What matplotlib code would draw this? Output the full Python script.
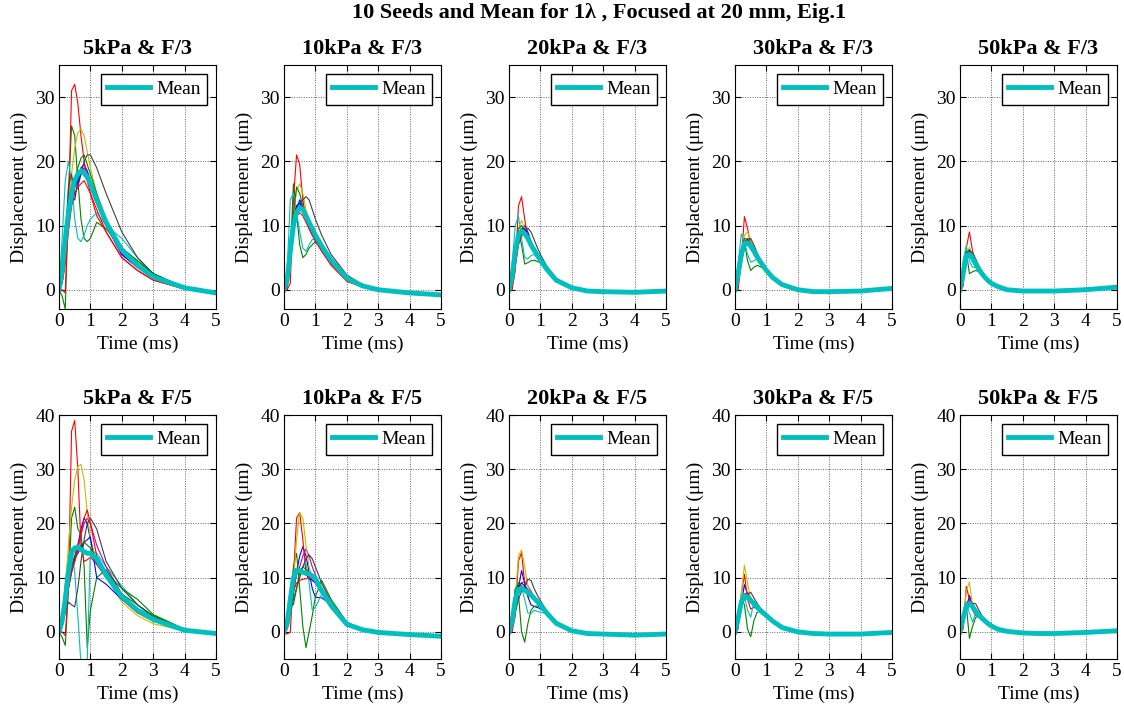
import numpy as np
import matplotlib
matplotlib.use("Agg")
import matplotlib.pyplot as plt

plt.rcParams['font.family'] = ['Liberation Serif', 'DejaVu Serif']
plt.rcParams['mathtext.fontset'] = 'stix'

# time samples (ms)
t_ms = [0, 0.1, 0.2, 0.3, 0.4, 0.5, 0.6, 0.7, 0.8, 0.9, 1.0, 1.2, 1.5, 2.0, 2.5, 3.0, 4.0, 5.0]

pressures = ["5kPa", "10kPa", "20kPa", "30kPa", "50kPa"]
f_numbers = ["F/3", "F/5"]

# old matlab colour order, 10 seeds
seed_colors = [(0, 0, 1), (0, 0.5, 0), (1, 0, 0), (0, 0.75, 0.75), (0.75, 0, 0.75),
               (0.75, 0.75, 0), (0.25, 0.25, 0.25), (0, 0, 1), (0, 0.5, 0), (1, 0, 0)]

### F/3 ###

seeds_5kPa_F3 = [
    [0, 1, 5, 10, 14, 14, 17, 19, 19.5, 18.5, 17, 14, 10, 5.5, 3.5, 1.8, 0.2, -0.5],
    [0, -1, -3, 15, 25.5, 24, 17, 11, 8, 7.5, 8, 10.5, 9.5, 6.5, 4.5, 2.5, 0.3, -0.5],
    [0, 0, -0.5, 12, 31, 32, 29, 24, 20, 17, 15, 11.5, 9, 5, 3, 1.5, 0.1, -0.5],
    [0, 8, 17, 20, 17, 11, 8, 7.5, 8.5, 10, 11, 12, 10, 8, 5, 2.5, 0.3, -0.5],
    [0, 2, 7, 12, 15.5, 16, 16.5, 18, 19, 18, 17, 14, 10, 5.5, 3.5, 1.8, 0.2, -0.5],
    [0, 1, 5, 12, 18, 22, 24.5, 25, 24, 21.5, 19, 15, 10.5, 6, 3.5, 1.8, 0.2, -0.5],
    [0, 2, 8, 16, 18, 15, 16, 18, 20, 21, 21, 19, 15, 9, 5, 2.5, 0.3, -0.5],
    [0, 3, 9, 14, 16, 16, 17, 18, 18.5, 17.5, 16.5, 13.5, 10, 5.5, 3.5, 1.8, 0.2, -0.5],
    [0, 2, 6, 11, 15, 17, 19, 20.5, 21, 19.5, 18, 15, 11, 6.5, 4.5, 2.5, 0.3, -0.5],
    [0, 1, 4, 9, 13, 15, 16, 16.5, 17, 16, 15, 12.5, 9, 5, 3, 1.5, 0.1, -0.5],
]
mean_5kPa_F3 = [0, 3, 8, 12, 15, 17, 18, 18.5, 18.2, 17.5, 16.5, 14, 10.5, 6.2, 3.8, 2.0, 0.3, -0.5]

seeds_10kPa_F3 = [
    [0, 0.5, 4, 9, 12.5, 14, 13, 11.5, 10, 9, 8, 6.5, 4.3, 1.8, 0.6, 0, -0.5, -0.8],
    [0, 0, 5, 16.5, 12, 7, 5, 5.5, 6.5, 7, 7.5, 6.5, 4.8, 2, 0.6, 0, -0.5, -0.8],
    [0, 0, 1, 14, 21, 19.5, 14, 11, 10, 9, 8, 6, 4, 1.5, 0.5, 0, -0.5, -0.8],
    [0, 3, 14, 15, 12, 9, 6.5, 6, 7, 7.8, 8, 7, 5, 2, 0.6, 0, -0.5, -0.8],
    [0, 1, 6, 11, 13, 13.5, 13, 12, 10.5, 9.5, 8.5, 6.8, 4.5, 1.8, 0.6, 0, -0.5, -0.8],
    [0, 0.5, 4, 11, 15.5, 16.5, 15, 12.5, 10.5, 9, 8, 6.3, 4.2, 1.5, 0.5, 0, -0.5, -0.8],
    [0, 1, 5, 10, 12, 13, 14, 14.5, 14, 12.5, 11, 8.5, 5.5, 2.3, 0.8, 0, -0.5, -0.8],
    [0, 2, 7, 11, 13, 13.5, 12.5, 11, 9.5, 8.5, 7.8, 6.3, 4.2, 1.7, 0.5, 0, -0.5, -0.8],
    [0, 1, 8, 12, 16, 15, 13, 11, 9.5, 8.7, 8, 6.5, 4.5, 1.8, 0.6, 0, -0.5, -0.8],
    [0, 0.5, 5, 10, 11.5, 12, 11.5, 10.5, 9.5, 8.5, 7.5, 6, 3.8, 1.3, 0.4, 0, -0.5, -0.8],
]
mean_10kPa_F3 = [0, 1.5, 6, 10, 12, 12.8, 12.5, 11.5, 10.5, 9.5, 8.5, 6.8, 4.6, 1.8, 0.6, 0, -0.5, -0.8]

seeds_20kPa_F3 = [
    [0, 1, 4, 7.5, 9, 10, 9, 7.5, 6.5, 5.6, 4.8, 3.3, 1.5, 0.3, -0.2, -0.3, -0.4, -0.2],
    [0, 1.5, 6, 9, 7, 4, 4.2, 4.5, 4.6, 4.4, 4.2, 3.2, 1.6, 0.3, -0.2, -0.3, -0.4, -0.2],
    [0, 0, 3, 13, 14.5, 11, 8, 6.5, 5.8, 5, 4.3, 3, 1.3, 0.2, -0.2, -0.3, -0.4, -0.2],
    [0, 4, 10, 11.5, 8, 5, 4.8, 5.3, 5.5, 5, 4.6, 3.3, 1.6, 0.3, -0.2, -0.3, -0.4, -0.2],
    [0, 1.5, 5.5, 8.5, 9.3, 9, 8.2, 7.2, 6.3, 5.4, 4.6, 3.2, 1.5, 0.3, -0.2, -0.3, -0.4, -0.2],
    [0, 1, 5, 9.5, 10.8, 9.5, 8, 7, 6, 5.2, 4.4, 3, 1.3, 0.2, -0.2, -0.3, -0.4, -0.2],
    [0, 1, 4, 7, 8.5, 9, 9.6, 9, 7.8, 6.6, 5.5, 3.7, 1.8, 0.4, -0.1, -0.3, -0.4, -0.2],
    [0, 2, 6, 8.5, 9.5, 9.5, 8.5, 7.3, 6.3, 5.4, 4.5, 3.1, 1.4, 0.3, -0.2, -0.3, -0.4, -0.2],
    [0, 1.5, 6.5, 9.5, 10, 9, 8, 7, 6, 5.2, 4.4, 3.1, 1.4, 0.3, -0.2, -0.3, -0.4, -0.2],
    [0, 0.5, 3.5, 7, 8.5, 8.5, 8, 7, 6, 5.1, 4.3, 3, 1.4, 0.2, -0.2, -0.3, -0.4, -0.2],
]
mean_20kPa_F3 = [0, 2, 6, 8.5, 9.1, 8.7, 8, 7, 6.2, 5.4, 4.6, 3.2, 1.5, 0.3, -0.2, -0.3, -0.4, -0.2]

seeds_30kPa_F3 = [
    [0, 1.5, 4.5, 7, 7.8, 7.3, 6.3, 5.3, 4.5, 3.8, 3.1, 2, 0.8, 0, -0.3, -0.3, -0.2, 0.2],
    [0, 2, 6, 7.5, 4.5, 3, 3.5, 3.8, 3.6, 3.3, 2.9, 2, 0.9, 0, -0.3, -0.3, -0.2, 0.2],
    [0, 0, 4.5, 11.4, 9.5, 7, 5.5, 4.7, 4, 3.4, 2.8, 1.8, 0.7, 0, -0.3, -0.3, -0.2, 0.2],
    [0, 4, 8.7, 7.5, 5.5, 4.3, 4.5, 4.8, 4.5, 3.9, 3.2, 2.1, 0.9, 0, -0.3, -0.3, -0.2, 0.2],
    [0, 2, 5.5, 7.5, 8, 7.2, 6.2, 5.3, 4.5, 3.8, 3.1, 2, 0.8, 0, -0.3, -0.3, -0.2, 0.2],
    [0, 1.5, 5.5, 8.5, 9, 7.8, 6.4, 5.3, 4.4, 3.7, 3, 1.9, 0.7, 0, -0.3, -0.3, -0.2, 0.2],
    [0, 1.5, 4.5, 7, 7.8, 8, 7, 5.8, 4.8, 4, 3.3, 2.1, 0.9, 0.1, -0.3, -0.3, -0.2, 0.2],
    [0, 2, 5.5, 7.3, 7.5, 7, 6.1, 5.2, 4.4, 3.7, 3, 1.9, 0.8, 0, -0.3, -0.3, -0.2, 0.2],
    [0, 2, 6, 8, 7.8, 7, 6, 5.1, 4.3, 3.6, 2.9, 1.9, 0.8, 0, -0.3, -0.3, -0.2, 0.2],
    [0, 1, 4, 6.5, 7.2, 7, 6.2, 5.3, 4.5, 3.7, 3, 1.9, 0.8, 0, -0.3, -0.3, -0.2, 0.2],
]
mean_30kPa_F3 = [0, 2.5, 5.5, 7.2, 7.3, 6.8, 6, 5.2, 4.4, 3.7, 3, 1.9, 0.8, 0, -0.3, -0.3, -0.2, 0.2]

seeds_50kPa_F3 = [
    [0, 1.5, 4.5, 5.8, 5.2, 4.2, 3.3, 2.6, 2, 1.5, 1, 0.5, 0, -0.2, -0.2, -0.2, 0, 0.4],
    [0, 2.5, 6, 2.5, 2.8, 3, 2.8, 2.4, 2, 1.5, 1.1, 0.5, 0, -0.2, -0.2, -0.2, 0, 0.4],
    [0, 0.5, 6.5, 9, 6, 4.2, 3.2, 2.5, 1.9, 1.4, 1, 0.5, 0, -0.2, -0.2, -0.2, 0, 0.4],
    [0, 4.5, 6.9, 4.5, 3.5, 3.5, 3.2, 2.6, 2, 1.5, 1, 0.5, 0, -0.2, -0.2, -0.2, 0, 0.4],
    [0, 2.5, 5, 6, 5.2, 4.2, 3.3, 2.6, 2, 1.5, 1, 0.5, 0, -0.2, -0.2, -0.2, 0, 0.4],
    [0, 2, 5.5, 6.6, 5.5, 4.2, 3.2, 2.5, 1.9, 1.4, 1, 0.5, 0, -0.2, -0.2, -0.2, 0, 0.4],
    [0, 1.5, 4.5, 6, 5.8, 4.8, 3.7, 2.8, 2.1, 1.6, 1.1, 0.5, 0, -0.2, -0.2, -0.2, 0, 0.4],
    [0, 2.5, 5.5, 6.2, 5, 4, 3.2, 2.5, 1.9, 1.4, 1, 0.5, 0, -0.2, -0.2, -0.2, 0, 0.4],
    [0, 2.5, 5.8, 6, 5, 4, 3.1, 2.4, 1.9, 1.4, 1, 0.5, 0, -0.2, -0.2, -0.2, 0, 0.4],
    [0, 1.5, 4.5, 5.5, 5, 4.1, 3.2, 2.5, 1.9, 1.4, 1, 0.5, 0, -0.2, -0.2, -0.2, 0, 0.4],
]
mean_50kPa_F3 = [0, 2.5, 5.3, 5.5, 4.9, 4, 3.2, 2.5, 1.9, 1.4, 1, 0.5, 0, -0.2, -0.2, -0.2, 0, 0.4]

### F/5 ###

seeds_5kPa_F5 = [
    [0, 1, 4, 8, 11, 13, 16, 19, 21, 20, 17, 12.5, 10, 6.8, 4, 2.3, 0.3, -0.3],
    [0, -1, -2.5, 8, 21, 23, 19, 18, 12, -3, 4, 10, 11.5, 7, 5, 3, 0.4, -0.3],
    [0, 0, -0.7, 8, 37, 39, 30, 16, 13, 13.3, 13.8, 12.5, 10.5, 6, 3.5, 2, 0.2, -0.3],
    [0, 3, 9, 14, 15.4, 11, 3, -6, -9, -5, 15, 14.5, 12, 8.5, 5, 2.5, 0.3, -0.3],
    [0, 1, 4, 8, 12, 14, 16, 18, 20, 21, 20, 16, 12, 7, 4, 2.2, 0.3, -0.3],
    [0, 2, 8, 16, 23, 28, 30.5, 30.9, 28, 22, 17, 13, 10, 5.5, 3, 1.5, 0.2, -0.3],
    [0, 1.5, 3.5, 5.5, 5, 4.6, 8, 13, 17, 20, 21, 19, 13, 8, 5, 2.8, 0.5, -0.3],
    [0, 2, 5, 9, 12, 13.5, 14.5, 15.5, 16.5, 17, 17.5, 10, 8.8, 6, 3.8, 2.2, 0.3, -0.3],
    [0, 1.5, 5, 9, 12, 14, 15, 16, 16.5, 16, 15.5, 13.5, 11, 8, 6, 3.2, 0.5, -0.3],
    [0, 1, 4, 8, 11, 13, 15, 18, 21, 22.5, 20, 14, 11, 6.5, 3.8, 2.2, 0.3, -0.3],
]
mean_5kPa_F5 = [0, 2, 6, 11, 14.5, 15.5, 15.6, 15.2, 14.8, 14.5, 14.5, 13.5, 10.5, 6.5, 4, 2.3, 0.3, -0.3]

seeds_10kPa_F5 = [
    [0, 0.5, 3, 7, 11, 14, 15.7, 14, 11, 8, 6.4, 6.3, 5, 1.5, 0.4, -0.1, -0.5, -0.8],
    [0, 1, 6, 12, 14.5, 8, 1, -2.9, 0, 3, 6.5, 9.5, 6, 1.8, 0.5, -0.1, -0.5, -0.8],
    [0, -0.4, 0, 10, 21, 22, 17, 11, 9.6, 10, 10, 7.5, 4.5, 1.2, 0.3, -0.1, -0.5, -0.8],
    [0, 2, 7, 11, 11.5, 11, 12, 12.7, 9, 4, 4.5, 7, 5.5, 1.6, 0.5, -0.1, -0.5, -0.8],
    [0, 1, 4, 8, 10.5, 12, 14, 15.3, 14, 12, 10.5, 8, 5, 1.5, 0.4, -0.1, -0.5, -0.8],
    [0, 0.5, 3, 9, 17, 22, 21, 16, 12, 10, 9, 7, 4.3, 1.1, 0.3, -0.1, -0.5, -0.8],
    [0, 1, 3.5, 6, 8, 10, 12, 13.5, 14.2, 13.5, 12, 9, 5.5, 1.7, 0.5, -0.1, -0.5, -0.8],
    [0, 1.5, 5.5, 9, 11, 11.5, 11, 10.5, 10, 9.5, 9, 7.3, 4.7, 1.3, 0.4, -0.1, -0.5, -0.8],
    [0, 2, 6, 5, 8, 11, 12, 11.5, 11, 10.5, 9.8, 8, 5.2, 1.6, 0.5, -0.1, -0.5, -0.8],
    [0, 1, 4, 7.5, 9, 9.5, 9.7, 9.8, 10, 9.8, 9.3, 7.3, 4.6, 1.3, 0.4, -0.1, -0.5, -0.8],
]
mean_10kPa_F5 = [0, 1.5, 6, 10, 11.4, 11.3, 11, 10.8, 10.7, 10.3, 9.8, 7.6, 4.9, 1.4, 0.4, -0.1, -0.5, -0.8]

seeds_20kPa_F5 = [
    [0, 1, 4, 8, 11.3, 9, 6.5, 5, 4.7, 4.5, 4.3, 3.3, 1.6, 0.2, -0.3, -0.4, -0.6, -0.4],
    [0, 2, 8, 7, 0, -1.9, 1.5, 4, 4.7, 4.8, 4.6, 3.4, 1.6, 0.2, -0.3, -0.4, -0.6, -0.4],
    [0, 0, 3, 13, 14.6, 9, 6.5, 6.8, 6.5, 5.5, 4.8, 3.2, 1.4, 0.1, -0.3, -0.4, -0.6, -0.4],
    [0, 3, 8, 9, 8, 6, 3.5, 3.4, 4, 3.8, 3.6, 3.4, 1.8, 0.2, -0.3, -0.4, -0.6, -0.4],
    [0, 1.5, 5, 8, 9, 9.3, 8.5, 7.5, 6.5, 5.8, 5.1, 3.5, 1.6, 0.2, -0.3, -0.4, -0.6, -0.4],
    [0, 1, 6, 14, 15.1, 12, 8.5, 7, 6, 5.3, 4.7, 3.1, 1.3, 0.1, -0.3, -0.4, -0.6, -0.4],
    [0, 1, 3.5, 6, 7.5, 8.5, 9.7, 9.5, 8, 6.8, 5.8, 3.8, 1.8, 0.3, -0.3, -0.4, -0.6, -0.4],
    [0, 2, 6, 8.5, 9, 8.5, 7.8, 7, 6.3, 5.6, 5, 3.5, 1.6, 0.2, -0.3, -0.4, -0.6, -0.4],
    [0, 2.5, 7.5, 9, 8.5, 8, 7.5, 6.8, 6.2, 5.5, 4.9, 3.4, 1.6, 0.2, -0.3, -0.4, -0.6, -0.4],
    [0, 1, 4, 7, 8, 8, 7.5, 7, 6.3, 5.6, 5, 3.4, 1.5, 0.2, -0.3, -0.4, -0.6, -0.4],
]
mean_20kPa_F5 = [0, 2, 6, 7.8, 8, 7.7, 7.3, 6.8, 6.2, 5.6, 5, 3.5, 1.6, 0.2, -0.3, -0.4, -0.6, -0.4]

seeds_30kPa_F5 = [
    [0, 1.5, 5, 8.7, 7, 5.5, 5, 4.4, 3.9, 3.4, 3, 2, 0.8, 0, -0.3, -0.4, -0.4, -0.1],
    [0, 2.5, 6, 5, 0.5, -0.9, 2, 3.6, 3.8, 3.5, 3.1, 2.1, 0.9, 0, -0.3, -0.4, -0.4, -0.1],
    [0, 0.5, 7, 10.6, 6, 4.2, 4.5, 4.3, 3.8, 3.3, 2.9, 1.9, 0.7, 0, -0.3, -0.4, -0.4, -0.1],
    [0, 3.5, 7, 6.5, 4, 2.7, 5.5, 5, 4.2, 3.6, 3.1, 2.1, 0.9, 0, -0.3, -0.4, -0.4, -0.1],
    [0, 2, 5, 7, 7.2, 6.3, 5.5, 4.8, 4.1, 3.6, 3.1, 2, 0.8, 0, -0.3, -0.4, -0.4, -0.1],
    [0, 1.5, 7, 12.3, 9, 6, 5, 4.4, 3.8, 3.3, 2.9, 1.9, 0.7, 0, -0.3, -0.4, -0.4, -0.1],
    [0, 1.5, 4.5, 6.5, 7, 7.3, 6.3, 5.3, 4.5, 3.8, 3.2, 2.1, 0.9, 0, -0.3, -0.4, -0.4, -0.1],
    [0, 2.5, 5.5, 6.8, 6.5, 5.9, 5.2, 4.6, 4, 3.5, 3, 2, 0.8, 0, -0.3, -0.4, -0.4, -0.1],
    [0, 2.5, 6, 7, 6.5, 5.8, 5.1, 4.5, 3.9, 3.4, 2.9, 1.9, 0.8, 0, -0.3, -0.4, -0.4, -0.1],
    [0, 1.5, 4.5, 6, 6.2, 5.8, 5.2, 4.6, 4, 3.5, 3, 2, 0.8, 0, -0.3, -0.4, -0.4, -0.1],
]
mean_30kPa_F5 = [0, 2.5, 5.5, 6.7, 6.4, 5.8, 5.2, 4.6, 4, 3.5, 3, 2, 0.8, 0, -0.3, -0.4, -0.4, -0.1]

seeds_50kPa_F5 = [
    [0, 1.5, 4.5, 6.7, 5, 3.5, 3, 2.5, 2, 1.5, 1.1, 0.5, 0.1, -0.2, -0.3, -0.3, -0.1, 0.2],
    [0, 2.5, 5, -1.2, 1, 2.7, 2.8, 2.5, 2.1, 1.6, 1.2, 0.6, 0.1, -0.2, -0.3, -0.3, -0.1, 0.2],
    [0, 0.5, 8.4, 6, 4, 3, 2.9, 2.5, 2, 1.5, 1.1, 0.5, 0.1, -0.2, -0.3, -0.3, -0.1, 0.2],
    [0, 3.5, 5.5, 3.5, 1.8, 3.5, 3.3, 2.7, 2.1, 1.6, 1.2, 0.6, 0.1, -0.2, -0.3, -0.3, -0.1, 0.2],
    [0, 2, 5, 6, 5.3, 4.2, 3.3, 2.6, 2.1, 1.6, 1.1, 0.5, 0.1, -0.2, -0.3, -0.3, -0.1, 0.2],
    [0, 1.5, 7.5, 9.2, 5, 3.5, 3, 2.5, 2, 1.5, 1.1, 0.5, 0.1, -0.2, -0.3, -0.3, -0.1, 0.2],
    [0, 1.5, 4, 5, 5.3, 5.2, 4, 3, 2.3, 1.7, 1.2, 0.6, 0.1, -0.2, -0.3, -0.3, -0.1, 0.2],
    [0, 2.5, 5, 5.5, 4.7, 3.8, 3.1, 2.5, 2, 1.5, 1.1, 0.5, 0.1, -0.2, -0.3, -0.3, -0.1, 0.2],
    [0, 2.5, 5.3, 5.5, 4.6, 3.7, 3, 2.4, 1.9, 1.5, 1.1, 0.5, 0.1, -0.2, -0.3, -0.3, -0.1, 0.2],
    [0, 1.5, 4, 5, 4.8, 4, 3.2, 2.5, 2, 1.5, 1.1, 0.5, 0.1, -0.2, -0.3, -0.3, -0.1, 0.2],
]
mean_50kPa_F5 = [0, 2.5, 4.8, 5.2, 4.6, 3.8, 3.1, 2.5, 2, 1.5, 1.1, 0.5, 0.1, -0.2, -0.3, -0.3, -0.1, 0.2]

rows = [
    [(seeds_5kPa_F3, mean_5kPa_F3), (seeds_10kPa_F3, mean_10kPa_F3), (seeds_20kPa_F3, mean_20kPa_F3),
     (seeds_30kPa_F3, mean_30kPa_F3), (seeds_50kPa_F3, mean_50kPa_F3)],
    [(seeds_5kPa_F5, mean_5kPa_F5), (seeds_10kPa_F5, mean_10kPa_F5), (seeds_20kPa_F5, mean_20kPa_F5),
     (seeds_30kPa_F5, mean_30kPa_F5), (seeds_50kPa_F5, mean_50kPa_F5)],
]
ylims = [(-3, 35), (-5, 40)]
yticks = [[0, 10, 20, 30], [0, 10, 20, 30, 40]]

W, H = 1124, 713
fig = plt.figure(figsize=(W / 100, H / 100), dpi=100)

lefts = [59, 284, 509, 735, 960]
tops = [65, 415]
ax_w, ax_h = 157, 244

for r in range(2):
    for c in range(5):
        ax = fig.add_axes([lefts[c] / W, (H - tops[r] - ax_h) / H, ax_w / W, ax_h / H])
        seeds, mean = rows[r][c]
        for k, s in enumerate(seeds):
            ax.plot(t_ms, s, color=seed_colors[k], lw=0.8)
        ax.plot(t_ms, mean, color=(0, 0.75, 0.75), lw=3.5, label="Mean")
        ax.set_xlim(0, 5)
        ax.set_ylim(*ylims[r])
        ax.set_xticks([0, 1, 2, 3, 4, 5])
        ax.set_yticks(yticks[r])
        ax.grid(True, color='0.4', linestyle=(0, (1, 1.5)), lw=0.7)
        ax.tick_params(direction='in', top=True, right=True, length=4, labelsize=14, pad=3)
        ax.set_title(pressures[c] + " & " + f_numbers[r], fontsize=16, fontweight='bold', pad=8)
        ax.set_xlabel("Time (ms)", fontsize=14, labelpad=4)
        ax.set_ylabel("Displacement (μm)", fontsize=14, labelpad=5)
        leg = ax.legend(loc='upper right', fontsize=14, handlelength=2.2, handletextpad=0.3,
                        borderpad=0.35, borderaxespad=0.45, fancybox=False, framealpha=1)
        leg.get_frame().set_edgecolor('black')
        leg.get_frame().set_linewidth(1.0)

fig.suptitle("10 Seeds and Mean for 1λ , Focused at 20 mm, Eig.1", fontsize=16, fontweight='bold',
             x=599 / W, y=1 - 3 / H, va='top')

fig.savefig("out.png", dpi=100)
